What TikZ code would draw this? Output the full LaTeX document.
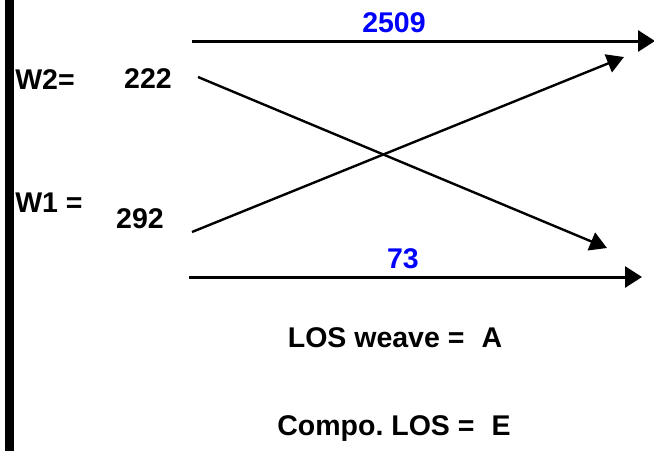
\documentclass[tikz,border=0pt]{standalone}
\usepackage{fontspec}
\setmainfont{Liberation Sans}
\usetikzlibrary{arrows.meta}
\definecolor{numblue}{RGB}{0,0,255}
\tikzset{
  lbl/.style={font=\fontsize{28.5}{31}\selectfont\bfseries\frenchspacing, inner sep=0pt, anchor=center},
  bluelbl/.style={lbl, text=numblue},
  arr/.style={line width=3pt, -{Triangle[length=17pt,width=21pt]}},
  diag/.style={line width=2.4pt, -{Triangle[length=17pt,width=19pt]}},
}
\begin{document}
\begin{tikzpicture}[x=1pt,y=-1pt]
\useasboundingbox (0,0) rectangle (654,451);
\fill[black] (5,0) rectangle (14,451);
% labels
\node[lbl] (w2) at (45,80) {W2=};
\node[lbl] (n222) at (148,79) {222};
\node[lbl] (w1) at (49,203) {W1 =};
\node[lbl] (n292) at (140,219) {292};
\node[bluelbl] (t2509) at (394,23) {2509};
\node[bluelbl] (t73) at (403,259) {73};
\node[lbl] (los) at (395,338) {LOS weave =\hspace{0.6em}A};
\node[lbl] (comp) at (394,428) {Compo. LOS =\hspace{0.6em}E};
% endpoints
\coordinate (topA) at (192,41);
\coordinate (topB) at (655,41);
\coordinate (botA) at (189,277);
\coordinate (botB) at (642,277);
\coordinate (dA) at (198,77);
\coordinate (dB) at (607,248);
\coordinate (uA) at (192,232);
\coordinate (uB) at (624,57);
\draw[arr] (topA) -- (topB);
\draw[arr] (botA) -- (botB);
\draw[diag] (dA) -- (dB);
\draw[diag] (uA) -- (uB);
\end{tikzpicture}
\end{document}
